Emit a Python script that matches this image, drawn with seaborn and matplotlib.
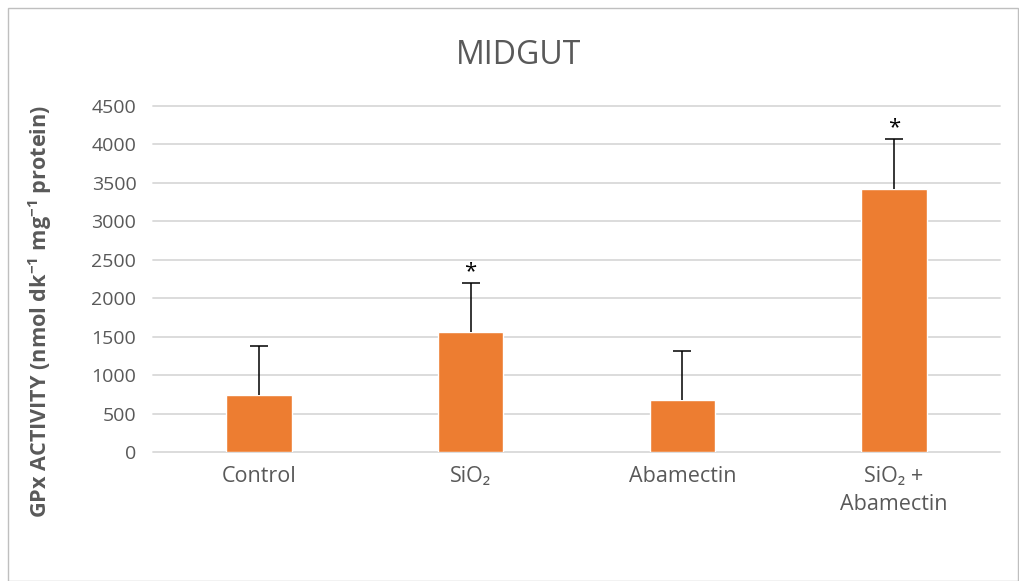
import numpy as np
import pandas as pd
import matplotlib.pyplot as plt
import matplotlib.patches as mpatches
import seaborn as sns

groups = ["Control", "SiO\u2082", "Abamectin", "SiO\u2082 +\nAbamectin"]
means = [740, 1560, 680, 3420]
errors = [640, 640, 640, 650]
signif = ["", "*", "", "*"]

sns.set_style("white")
plt.rcParams['font.family'] = ['Open Sans', 'DejaVu Sans']
plt.rcParams['mathtext.fontset'] = 'custom'
plt.rcParams['mathtext.rm'] = 'Open Sans'
plt.rcParams['mathtext.bf'] = 'Open Sans:bold'

grey = '#595959'
df = pd.DataFrame({"group": groups, "value": means})

fig = plt.figure(figsize=(10.2, 5.81), dpi=100)
ax = fig.add_axes([153/1020, 1-452/581, 847/1020, 346/581])

sns.barplot(data=df, x="group", y="value", color='#ED7D31', saturation=1,
            width=0.31, errorbar=None, ax=ax, zorder=3)
x = np.arange(len(groups))
tops = np.array(means) + np.array(errors)
# upper-only error bars
ax.vlines(x, means, tops, color='black', linewidth=1.1, zorder=4)
ax.plot(x, tops, ls='none', marker='_', markersize=13, markeredgewidth=1.1,
        color='black', zorder=4, clip_on=False)
for xi, t, s in zip(x, tops, signif):
    if s:
        ax.text(xi, t + 5, s, ha='center', va='bottom', fontsize=16, color='black')

ax.set_ylim(0, 4500)
ax.set_xlim(-0.5, 3.5)
ax.set_yticks(range(0, 4501, 500))
ax.yaxis.grid(True, color='#d9d9d9', linewidth=1.3)
for gl in ax.get_ygridlines():
    gl.set_clip_on(False)
ax.set_axisbelow(True)
for sp in ax.spines.values():
    sp.set_visible(False)
ax.tick_params(axis='both', length=0, labelcolor=grey)
ax.tick_params(axis='y', pad=12, labelsize=14)
ax.tick_params(axis='x', pad=10, labelsize=15.5)
for lab in ax.get_xticklabels():
    lab.set_linespacing(1.45)
ax.set_xlabel("")
ax.set_ylabel("")
fig.text(40/1020, 1-311/581,
         r"GPx ACTIVITY (nmol dk$^{\mathbf{-1}}$ mg$^{\mathbf{-1}}$ protein)",
         rotation=90, ha='center', va='center', fontsize=15.6, fontweight='bold', color=grey)
fig.text(519/1020, 1-55/581, "MIDGUT", ha='center', va='center', fontsize=23, color=grey)

fig.patches.append(mpatches.Rectangle((8/1020, 0), 1010/1020, 1-8/581, transform=fig.transFigure,
                                      fill=False, edgecolor='#bfbfbf', linewidth=1))
fig.savefig("out.png", dpi=100)
